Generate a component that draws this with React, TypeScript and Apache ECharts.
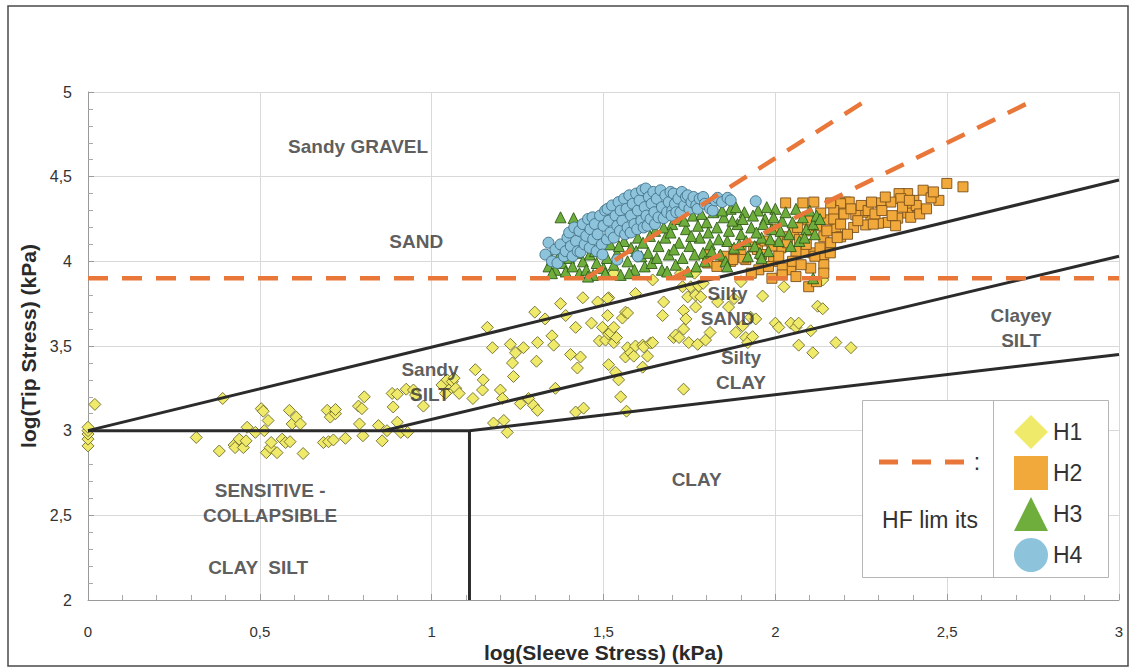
import React, { useEffect, useRef } from "react";
import * as echarts from "echarts";

// Axis ranges (log kPa)
const X_RANGE = [0, 3];
const Y_RANGE = [2, 5];
const TICK_STEP = 0.5;

// CPT soundings, [log(sleeve stress), log(tip stress)]
const H1_POINTS: number[][] = [
  [0, 2.91], [0, 2.95], [0, 2.98], [0, 3.0], [0, 3.02], [0.02, 3.155],
  [0.315, 2.96], [0.382, 2.88], [0.392, 3.19], [0.425, 2.915], [0.428, 2.9], [0.44, 2.95], [0.452, 2.9],
  [0.46, 2.94], [0.463, 3.02], [0.487, 2.99], [0.504, 3.13], [0.51, 3.115], [0.513, 3.0],
  [0.519, 2.87], [0.524, 3.06], [0.53, 2.9], [0.533, 2.93], [0.55, 2.87], [0.565, 2.95], [0.575, 2.93],
  [0.586, 3.12], [0.588, 2.935], [0.594, 3.04], [0.606, 3.08], [0.618, 3.04], [0.626, 2.865],
  [0.685, 2.93], [0.7, 2.935], [0.696, 3.12], [0.705, 3.08], [0.72, 3.1], [0.714, 2.945], [0.72, 3.125],
  [0.749, 2.955], [0.787, 3.145], [0.79, 3.04], [0.797, 3.13], [0.8, 2.97], [0.804, 3.2], [0.845, 3.03],
  [0.856, 2.94], [0.87, 3.0], [0.885, 3.22], [0.888, 3.14], [0.9, 3.215], [0.9, 3.05], [0.91, 2.99],
  [0.926, 3.245], [0.93, 2.99], [0.947, 3.24], [0.953, 3.21], [0.976, 3.145],
  [1.03, 3.27], [1.045, 3.3], [1.06, 3.29], [1.05, 3.24], [1.07, 3.25], [1.04, 3.22], [1.065, 3.31], [1.08, 3.22],
  [1.12, 3.19], [1.127, 3.36], [1.148, 3.24], [1.15, 3.3], [1.162, 3.61], [1.177, 3.49], [1.18, 3.045],
  [1.2, 3.24], [1.206, 3.19], [1.21, 3.06], [1.22, 2.99], [1.229, 3.51], [1.235, 3.4], [1.238, 3.32],
  [1.244, 3.46], [1.258, 3.16], [1.267, 3.49], [1.282, 3.19], [1.296, 3.15], [1.305, 3.41], [1.308, 3.52],
  [1.308, 3.12], [1.35, 3.56], [1.355, 3.505], [1.36, 3.25], [1.404, 3.45], [1.419, 3.61], [1.419, 3.11],
  [1.424, 3.37], [1.433, 3.435], [1.442, 3.133], [1.465, 3.635], [1.3, 3.7], [1.33, 3.66], [1.375, 3.75],
  [1.39, 3.68], [1.44, 3.785], [1.483, 3.76], [1.515, 3.785],
  [1.488, 3.53], [1.497, 3.61], [1.506, 3.535], [1.512, 3.68], [1.512, 3.78], [1.515, 3.57], [1.515, 3.39],
  [1.52, 3.58], [1.53, 3.61], [1.53, 3.52], [1.53, 3.93], [1.535, 3.345], [1.538, 3.55], [1.544, 3.3],
  [1.55, 3.2], [1.555, 3.665], [1.564, 3.7], [1.564, 3.435], [1.567, 3.115], [1.57, 3.695], [1.57, 3.49],
  [1.579, 3.46], [1.588, 3.44], [1.593, 3.5], [1.593, 3.81], [1.614, 3.505], [1.614, 3.375], [1.617, 3.494],
  [1.628, 3.44], [1.637, 3.517], [1.643, 3.52], [1.643, 3.89], [1.672, 3.68], [1.675, 3.76],
  [1.704, 3.55], [1.71, 3.565], [1.72, 3.55], [1.724, 3.93], [1.73, 3.85], [1.733, 3.6], [1.733, 3.71],
  [1.733, 3.245], [1.74, 3.66], [1.745, 3.79], [1.748, 3.52], [1.754, 3.85], [1.765, 3.93], [1.768, 3.8],
  [1.768, 3.73], [1.774, 3.51], [1.777, 3.855], [1.783, 3.79], [1.79, 3.87], [1.797, 3.535], [1.81, 3.58],
  [1.832, 3.76], [1.864, 3.73], [1.88, 3.78], [1.885, 3.58], [1.9, 3.88], [1.905, 3.62], [1.914, 3.55],
  [1.92, 3.52], [1.928, 3.67], [1.934, 3.555], [1.943, 3.66], [1.963, 3.795], [2.0, 3.635], [2.01, 3.61],
  [2.025, 3.85], [2.045, 3.635], [2.06, 3.61], [2.068, 3.635], [2.068, 3.505], [2.103, 3.59], [2.109, 3.46],
  [2.123, 3.735], [2.138, 3.72], [2.138, 3.89], [2.176, 3.52], [2.22, 3.49],
];

const H2_POINTS: number[][] = [
  [2.499, 4.46], [2.546, 4.44], [2.43, 4.42], [2.476, 4.36], [2.453, 4.375], [2.403, 4.36], [2.385, 4.4],
  [2.36, 4.4], [2.365, 4.37], [2.336, 4.35], [2.307, 4.345], [2.389, 4.315], [2.385, 4.285], [2.394, 4.26],
  [2.356, 4.255], [2.327, 4.23], [2.3, 4.225], [2.278, 4.26], [2.255, 4.29], [2.234, 4.275], [2.263, 4.215],
  [2.228, 4.2], [2.285, 4.22], [2.205, 4.35], [2.215, 4.35], [2.19, 4.34], [2.196, 4.285], [2.17, 4.3],
  [2.176, 4.2], [2.153, 4.245], [2.141, 4.145], [2.19, 4.145], [2.161, 4.11], [2.141, 4.04], [2.109, 4.05],
  [2.141, 3.98], [2.103, 3.96], [2.141, 3.93], [2.097, 3.85], [2.083, 4.055], [2.06, 4.06], [2.045, 3.95],
  [1.995, 4.0], [1.952, 3.95], [1.914, 4.01], [2.016, 4.08], [2.025, 4.145], [2.054, 4.17], [2.094, 4.245],
  [2.08, 4.345], [2.03, 4.345], [2.112, 4.35], [2.132, 4.285], [2.161, 4.345],
  [1.87, 4.0], [1.908, 4.02], [1.937, 4.085], [1.803, 4.04], [1.876, 4.01], [1.948, 4.07], [1.803, 3.99],
  [1.88, 4.07], [1.9, 4.07], [1.96, 4.04], [1.97, 4.12], [1.98, 3.97], [1.99, 4.09], [2.0, 4.19],
  [2.01, 4.03], [2.02, 3.96], [2.035, 4.11], [2.05, 4.0], [2.065, 4.2], [2.07, 4.13], [2.075, 3.98],
  [2.09, 4.1], [2.1, 4.18], [2.115, 4.03], [2.12, 4.21], [2.13, 4.08], [2.15, 4.18], [2.16, 4.05],
  [2.17, 4.25], [2.18, 4.14], [2.19, 4.22], [2.2, 4.28], [2.21, 4.16], [2.22, 4.31], [2.24, 4.24],
  [2.25, 4.33], [2.27, 4.3], [2.29, 4.28], [2.31, 4.3], [2.32, 4.38], [2.34, 4.27], [2.37, 4.32],
  [2.41, 4.33], [2.42, 4.28], [2.44, 4.31], [2.46, 4.41], [2.35, 4.21], [2.28, 4.35], [2.39, 4.36],
  [1.99, 3.9], [2.02, 3.92], [2.12, 3.88], [1.93, 3.93], [2.06, 3.91], [1.85, 4.03], [1.83, 3.97],
];

const H3_POINTS: number[][] = [
  [1.34, 3.97], [1.35, 4.01], [1.36, 3.95], [1.37, 4.03], [1.38, 3.99], [1.39, 3.94], [1.4, 4.02],
  [1.41, 3.97], [1.42, 4.05], [1.43, 3.93], [1.375, 4.26], [1.413, 4.255], [1.35, 3.93], [1.395, 4.06],
  [1.44, 4.0], [1.45, 3.95], [1.46, 4.04], [1.47, 3.92], [1.48, 3.99], [1.49, 4.07], [1.5, 3.96],
  [1.51, 4.02], [1.52, 4.1], [1.455, 3.91], [1.475, 4.06], [1.505, 3.93],
  [1.53, 3.98], [1.54, 4.05], [1.55, 3.92], [1.56, 4.12], [1.57, 4.0], [1.58, 4.08], [1.59, 3.95],
  [1.6, 4.14], [1.61, 4.03], [1.62, 3.97], [1.545, 4.09], [1.575, 3.93], [1.595, 4.06], [1.615, 4.11],
  [1.63, 4.05], [1.64, 3.99], [1.65, 4.18], [1.66, 4.09], [1.67, 3.95], [1.68, 4.14], [1.69, 4.04],
  [1.7, 4.22], [1.71, 3.98], [1.72, 4.11], [1.635, 4.15], [1.655, 4.02], [1.675, 4.2], [1.685, 3.94],
  [1.695, 4.17], [1.705, 4.07], [1.715, 4.25],
  [1.73, 4.02], [1.74, 4.19], [1.75, 4.09], [1.76, 4.27], [1.77, 3.97], [1.78, 4.14], [1.79, 4.05],
  [1.8, 4.23], [1.81, 4.1], [1.82, 4.29], [1.735, 4.24], [1.745, 3.94], [1.755, 4.15], [1.765, 4.04],
  [1.775, 4.21], [1.785, 4.28], [1.795, 4.0], [1.805, 4.17], [1.815, 4.06],
  [1.83, 4.2], [1.84, 4.04], [1.85, 4.26], [1.86, 4.12], [1.87, 4.31], [1.88, 4.08], [1.89, 4.22],
  [1.9, 4.16], [1.91, 4.29], [1.92, 4.03], [1.835, 4.13], [1.845, 4.3], [1.855, 4.0], [1.865, 4.18],
  [1.875, 4.24], [1.885, 4.32], [1.895, 4.1], [1.905, 4.25], [1.915, 4.12],
  [1.93, 4.2], [1.94, 4.09], [1.95, 4.3], [1.96, 4.14], [1.97, 4.25], [1.98, 4.06], [1.99, 4.19],
  [2.0, 4.31], [2.01, 4.12], [2.02, 4.24], [1.935, 4.27], [1.945, 4.17], [1.955, 4.05], [1.965, 4.22],
  [1.975, 4.32], [1.985, 4.13], [1.995, 4.26], [2.015, 4.18],
  [2.03, 4.29], [2.04, 4.16], [2.05, 4.23], [2.06, 4.31], [2.07, 4.12], [2.08, 4.26], [2.09, 4.19],
  [2.1, 4.3], [2.11, 4.22], [2.12, 4.27], [2.13, 4.25], [2.045, 4.09], [2.085, 4.14], [2.115, 4.16],
  [2.11, 3.9], [1.86, 3.97], [1.96, 4.02],
];

const H4_POINTS: number[][] = [
  [1.331, 4.04], [1.34, 4.11], [1.35, 4.0], [1.36, 4.07], [1.366, 3.99], [1.375, 4.1], [1.385, 4.03],
  [1.395, 4.14], [1.39, 4.06],
  [1.4, 4.17], [1.405, 4.09], [1.41, 4.03], [1.415, 4.2], [1.42, 4.12], [1.425, 4.06], [1.43, 4.18],
  [1.433, 4.055], [1.44, 4.22], [1.445, 4.1], [1.45, 4.15],
  [1.455, 4.25], [1.46, 4.08], [1.462, 4.19], [1.468, 4.26], [1.47, 4.13], [1.475, 4.22], [1.48, 4.06],
  [1.483, 4.16], [1.49, 4.27], [1.495, 4.1], [1.497, 4.04], [1.5, 4.21],
  [1.505, 4.3], [1.51, 4.13], [1.512, 4.31], [1.515, 4.24], [1.52, 4.17], [1.525, 4.33], [1.53, 4.14],
  [1.535, 4.27], [1.54, 4.21], [1.54, 4.01], [1.544, 4.35], [1.548, 4.18], [1.55, 4.3],
  [1.555, 4.24], [1.56, 4.37], [1.563, 4.16], [1.567, 4.31], [1.57, 4.2], [1.575, 4.39], [1.579, 4.17],
  [1.58, 4.27], [1.585, 4.34], [1.59, 4.22], [1.595, 4.4], [1.6, 4.03], [1.6, 4.3], [1.598, 4.19],
  [1.605, 4.36], [1.61, 4.24], [1.612, 4.42], [1.617, 4.2], [1.62, 4.32], [1.623, 4.43], [1.625, 4.27],
  [1.628, 4.21], [1.632, 4.38], [1.637, 4.25], [1.64, 4.34], [1.645, 4.41], [1.648, 4.29], [1.65, 4.22],
  [1.655, 4.37], [1.66, 4.26], [1.666, 4.42], [1.67, 4.32], [1.675, 4.255], [1.68, 4.39], [1.685, 4.29],
  [1.69, 4.35], [1.695, 4.41], [1.7, 4.3], [1.698, 4.27],
  [1.704, 4.4], [1.708, 4.34], [1.712, 4.29], [1.718, 4.37], [1.724, 4.29], [1.728, 4.41], [1.735, 4.33],
  [1.74, 4.38], [1.745, 4.39], [1.75, 4.31],
  [1.756, 4.35], [1.762, 4.38], [1.77, 4.33], [1.774, 4.31], [1.78, 4.37], [1.79, 4.38], [1.795, 4.34],
  [1.81, 4.31], [1.818, 4.3], [1.825, 4.36], [1.832, 4.375], [1.845, 4.35], [1.861, 4.375], [1.87, 4.36],
  [1.943, 4.355],
];

// Zone boundaries of the classification chart
const BOUNDARY_UPPER: number[][] = [[0, 3.0], [3, 4.48]];
const BOUNDARY_MIDDLE: number[][] = [[0.86, 3.0], [3, 4.03]];
const BOUNDARY_LOWER: number[][] = [[1.11, 3.0], [3, 3.45]];
const BOUNDARY_SENSITIVE: number[][] = [[0, 3.0], [1.11, 3.0], [1.11, 2.0]];

// HF limits
const HF_FLAT: number[][] = [[0, 3.9], [3, 3.9]];
const HF_STEEP: number[][] = [[1.45, 3.9], [2.28, 4.97]];
const HF_SHALLOW: number[][] = [[1.7, 3.9], [2.75, 4.95]];

// Zone names and where they sit
const ZONE_NAMES = [
  "Sandy GRAVEL", "SAND", "Sandy\nSILT", "Silty\nSAND", "Silty\nCLAY",
  "Clayey\nSILT", "CLAY", "SENSITIVE -\nCOLLAPSIBLE", "CLAY  SILT",
];
const ZONE_POSITIONS: number[][] = [
  [0.786, 4.68], [0.955, 4.12], [0.995, 3.29], [1.861, 3.736], [1.9, 3.36],
  [2.715, 3.606], [1.771, 2.714], [0.53, 2.57], [0.495, 2.19],
];

const SERIES_NAMES = ["H1", "H2", "H3", "H4"];

const FONT = "'Liberation Sans', Arial, Helvetica, sans-serif";
const HF_COLOR = "#e9773a";
const LINE_COLOR = "#2b2b2b";

const fmt = (v: number) => String(v).replace(".", ",");

export default function App() {
  const ref = useRef<HTMLDivElement>(null);

  useEffect(() => {
    if (!ref.current) return;
    const chart = echarts.init(ref.current, undefined, { renderer: "svg" });

    const pointSeries = (name: string, data: number[][], symbol: string, size: number, fill: string, border: string, z: number) => ({
      name,
      type: "scatter",
      data,
      symbol,
      symbolSize: size,
      z,
      itemStyle: { color: fill, borderColor: border, borderWidth: 0.9, opacity: 1 },
    });

    const lineSeries = (data: number[][], color: string, width: number, dash: any, z: number) => ({
      type: "line",
      data,
      symbol: "none",
      silent: true,
      z,
      lineStyle: { color, width, type: dash },
    });

    const option: any = {
      animation: false,
      backgroundColor: "#ffffff",
      grid: { left: 88, right: 17, top: 92, bottom: 71 },
      xAxis: {
        type: "value",
        min: X_RANGE[0],
        max: X_RANGE[1],
        interval: TICK_STEP,
        name: "log(Sleeve Stress) (kPa)",
        nameLocation: "middle",
        nameGap: 42,
        nameMoveOverlap: false,
        nameTextStyle: { fontFamily: FONT, fontSize: 21, fontWeight: "bold", color: "#2a2a2a" },
        axisLine: { lineStyle: { color: "#9a9a9a", width: 1 } },
        axisTick: { show: true, inside: true, length: 6, lineStyle: { color: "#9a9a9a" } },
        minorTick: { show: true, splitNumber: 5, length: 5, lineStyle: { color: "#a8a8a8" } },
        splitLine: { show: true, lineStyle: { color: "#d9d9d9", width: 1 } },
        axisLabel: { formatter: fmt, margin: 24, fontFamily: FONT, fontSize: 15, color: "#333" },
      },
      yAxis: {
        type: "value",
        min: Y_RANGE[0],
        max: Y_RANGE[1],
        interval: TICK_STEP,
        name: "log(Tip Stress) (kPa)",
        nameLocation: "middle",
        nameGap: 46,
        nameRotate: 90,
        nameTextStyle: { fontFamily: FONT, fontSize: 21, fontWeight: "bold", color: "#2a2a2a" },
        axisLine: { show: true, lineStyle: { color: "#9a9a9a", width: 1 } },
        axisTick: { show: true, inside: true, length: 6, lineStyle: { color: "#9a9a9a" } },
        minorTick: { show: true, splitNumber: 5, length: 5, lineStyle: { color: "#a8a8a8" } },
        splitLine: { show: true, lineStyle: { color: "#d9d9d9", width: 1 } },
        axisLabel: { formatter: fmt, margin: 16, fontFamily: FONT, fontSize: 16, color: "#333" },
      },
      legend: {
        data: SERIES_NAMES,
        orient: "vertical",
        left: 1009,
        top: 410,
        z: 40,
        itemWidth: 34,
        itemHeight: 34,
        itemGap: 7,
        itemStyle: { borderWidth: 0 },
        textStyle: { fontFamily: FONT, fontSize: 23, color: "#333" },
        selectedMode: false,
      },
      series: [
        pointSeries("H1", H1_POINTS, "diamond", 12, "#f0ea6a", "#6d6a2c", 2),
        pointSeries("H2", H2_POINTS, "rect", 10, "#f2a93b", "#7a4f1a", 3),
        pointSeries("H3", H3_POINTS, "triangle", 11, "#6fae3d", "#2f5a18", 4),
        pointSeries("H4", H4_POINTS, "circle", 11, "#8ec3dc", "#3f6f86", 5),
        lineSeries(BOUNDARY_UPPER, LINE_COLOR, 3, "solid", 6),
        lineSeries(BOUNDARY_MIDDLE, LINE_COLOR, 3, "solid", 6),
        lineSeries(BOUNDARY_LOWER, LINE_COLOR, 3, "solid", 6),
        lineSeries(BOUNDARY_SENSITIVE, LINE_COLOR, 3, "solid", 6),
        lineSeries(HF_FLAT, HF_COLOR, 4.5, [20, 14], 7),
        lineSeries(HF_STEEP, HF_COLOR, 4.5, [20, 14], 7),
        lineSeries(HF_SHALLOW, HF_COLOR, 4.5, [20, 14], 7),
        {
          type: "scatter",
          silent: true,
          z: 8,
          symbolSize: 1,
          itemStyle: { color: "rgba(0,0,0,0)" },
          data: ZONE_NAMES.map((n, i) => ({ name: n, value: ZONE_POSITIONS[i] })),
          label: {
            show: true,
            position: "inside",
            formatter: (p: any) => p.name,
            fontFamily: FONT,
            fontSize: 19,
            fontWeight: "bold",
            color: "#333",
            lineHeight: 25,
            align: "center",
          },
        },
      ],
      graphic: [
        {
          type: "rect",
          shape: { x: 8, y: 6, width: 1120, height: 660 },
          style: { fill: "none", stroke: "#4a4a4a", lineWidth: 1.5 },
          silent: true,
          z: 0,
        },
        {
          type: "rect",
          shape: { x: 862.5, y: 400.5, width: 246, height: 177 },
          style: { fill: "#ffffff", stroke: "#b5b5b5", lineWidth: 1 },
          silent: true,
          z: 20,
        },
        {
          type: "line",
          shape: { x1: 993.5, y1: 400.5, x2: 993.5, y2: 577.5 },
          style: { stroke: "#b5b5b5", lineWidth: 1 },
          silent: true,
          z: 21,
        },
        {
          type: "line",
          shape: { x1: 879, y1: 462, x2: 965, y2: 462 },
          style: { stroke: HF_COLOR, lineWidth: 5, lineDash: [19, 14] },
          silent: true,
          z: 21,
        },
        {
          type: "text",
          x: 977,
          y: 462,
          style: { text: ":", fontFamily: FONT, fontSize: 23, fill: "#333", align: "center", verticalAlign: "middle" },
          silent: true,
          z: 21,
        },
        {
          type: "text",
          x: 930,
          y: 520,
          style: { text: "HF lim its", fontFamily: FONT, fontSize: 23, fill: "#333", align: "center", verticalAlign: "middle" },
          silent: true,
          z: 21,
        },
      ],
    };

    chart.setOption(option);
    return () => chart.dispose();
  }, []);

  return (
    <div
      ref={ref}
      style={{ position: "absolute", left: 0, top: 0, width: 1136, height: 671, background: "#fff" }}
    />
  );
}
